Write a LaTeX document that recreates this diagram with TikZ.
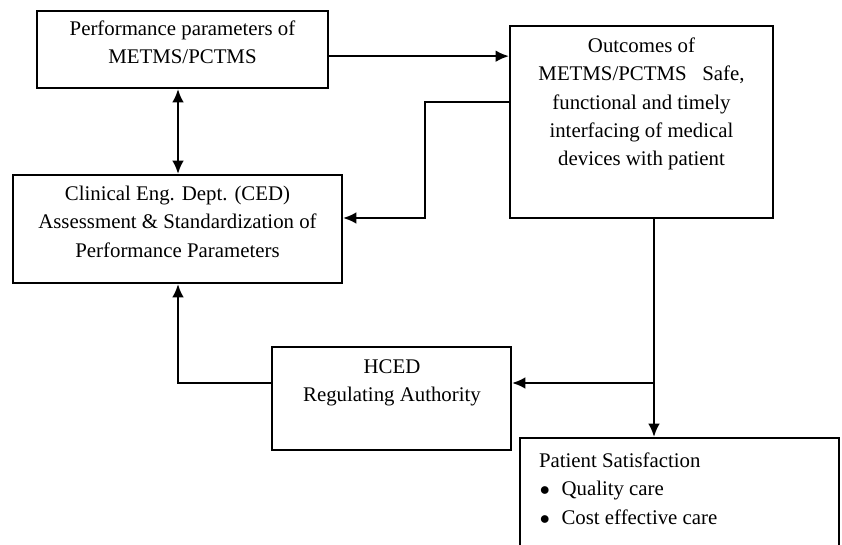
\documentclass[tikz,border=0pt]{standalone}
\usepackage{fontspec}
\setmainfont{Liberation Serif}
\usetikzlibrary{arrows.meta,fit}

\begin{document}
\begin{tikzpicture}[>={Latex[length=8pt,width=7pt]}, x=0.6pt, y=-0.6pt, line width=1.25pt,
    box/.style={draw, line width=1.25pt, inner sep=0pt},
    txt/.style={align=center, inner sep=0pt, font={\fontsize{12.5}{16.9}\selectfont}}]
        % Page frame
        \useasboundingbox (0,0) rectangle (842,545);
        \clip (0,0) rectangle (842,545);
        % Boxes
        \node[box, txt, fit={(37,11) (328,88)}] (perf) {Performance parameters of\\METMS/PCTMS};
        \node[box, txt, fit={(13,175) (342,283)}] (ced) {Clinical Eng. Dept. (CED)\\Assessment \& Standardization of\\Performance Parameters};
        \node[box, fit={(510,26) (773,218)}] (outc) {};
        \node[txt] (outctext) at (641.5,104) {Outcomes of\\METMS/PCTMS\ \ \ Safe,\\functional and timely\\interfacing of medical\\devices with patient};
        \node[box, fit={(272,347) (511,450)}] (hced) {};
        \node[txt] (hcedtext) at (392,383) {HCED\\Regulating Authority};
        \node[box, fit={(520,438) (839,580)}] (pat) {};
        \node[txt, align=left, anchor=north west] (pattext) at (538,452) {Patient Satisfaction\\
          \hspace*{0.5pt}$\bullet$\hspace{7pt}Quality care\\
          \hspace*{0.5pt}$\bullet$\hspace{7pt}Cost effective care};
        % Helper points
        \coordinate (colL) at (178,0);
        \coordinate (bend) at (425,102);
        \coordinate (lvlA) at (0,218);
        \coordinate (split) at (654,383);
        % Performance -> Outcomes
        \draw[->] ([yshift=-4pt]perf.east) -- ([yshift=-4pt]perf.east -| outc.west);
        % Performance <-> CED
        \draw[<->] (perf.south -| colL) -- (ced.north -| colL);
        % Outcomes -> CED
        \draw[->] (outc.west |- bend) -- (bend) |- (ced.east |- lvlA);
        % Outcomes -> HCED and Patient
        \draw (outc.south -| split) -- (split);
        \draw[->] (split) -- (hced.east |- split);
        \draw[->] (split) -- (pat.north -| split);
        % HCED -> CED
        \draw[->] (hced.west |- split) -| (ced.south -| colL);
      \end{tikzpicture}
\end{document}
